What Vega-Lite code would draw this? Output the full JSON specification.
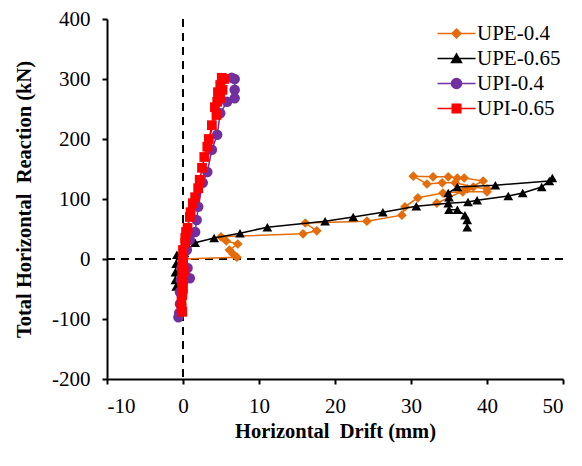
{
  "$schema": "https://vega.github.io/schema/vega-lite/v6.json",
  "width": 456,
  "height": 360,
  "autosize": {"type": "none"},
  "padding": {"left": 107, "top": 19, "right": 19, "bottom": 87},
  "background": "white",
  "config": {
    "font": "Liberation Serif",
    "view": {"stroke": null},
    "axis": {
      "grid": false,
      "domainColor": "black",
      "domainWidth": 2,
      "tickColor": "black",
      "tickWidth": 2,
      "tickSize": 5,
      "labelFont": "Liberation Serif",
      "labelFontSize": 21,
      "labelColor": "black",
      "labelExpr": "'' + datum.value",
      "titleFont": "Liberation Serif",
      "titleFontSize": 20.5,
      "titleFontWeight": "bold",
      "titleColor": "black"
    },
    "legend": {
      "orient": "none",
      "legendX": 339,
      "legendY": 4,
      "title": null,
      "labelFont": "Liberation Serif",
      "labelFontSize": 21,
      "labelColor": "black",
      "labelOffset": 10,
      "rowPadding": 3,
      "symbolSize": 100,
      "symbolStrokeWidth": 1.5
    }
  },
  "data": {
    "values": [
      {"s": "UPE-0.4", "i": 1, "x": 0, "y": 0},
      {"s": "UPE-0.4", "i": 2, "x": 7.1, "y": 3},
      {"s": "UPE-0.4", "i": 3, "x": 6.6, "y": 8},
      {"s": "UPE-0.4", "i": 4, "x": 6.1, "y": 15},
      {"s": "UPE-0.4", "i": 5, "x": 7.2, "y": 25},
      {"s": "UPE-0.4", "i": 6, "x": 5.7, "y": 30},
      {"s": "UPE-0.4", "i": 7, "x": 5.0, "y": 37},
      {"s": "UPE-0.4", "i": 8, "x": 15.8, "y": 42},
      {"s": "UPE-0.4", "i": 9, "x": 17.6, "y": 47},
      {"s": "UPE-0.4", "i": 10, "x": 16.1, "y": 60},
      {"s": "UPE-0.4", "i": 11, "x": 24.2, "y": 63},
      {"s": "UPE-0.4", "i": 12, "x": 28.8, "y": 73},
      {"s": "UPE-0.4", "i": 13, "x": 29.2, "y": 87},
      {"s": "UPE-0.4", "i": 14, "x": 30.9, "y": 102},
      {"s": "UPE-0.4", "i": 15, "x": 34.2, "y": 110},
      {"s": "UPE-0.4", "i": 16, "x": 36.8, "y": 112},
      {"s": "UPE-0.4", "i": 17, "x": 40.0, "y": 112},
      {"s": "UPE-0.4", "i": 18, "x": 40.0, "y": 117},
      {"s": "UPE-0.4", "i": 19, "x": 38.2, "y": 120},
      {"s": "UPE-0.4", "i": 20, "x": 35.8, "y": 127},
      {"s": "UPE-0.4", "i": 21, "x": 34.1, "y": 127},
      {"s": "UPE-0.4", "i": 22, "x": 32.1, "y": 125},
      {"s": "UPE-0.4", "i": 23, "x": 30.3, "y": 138},
      {"s": "UPE-0.4", "i": 24, "x": 32.9, "y": 137},
      {"s": "UPE-0.4", "i": 25, "x": 34.9, "y": 137},
      {"s": "UPE-0.4", "i": 26, "x": 36.1, "y": 135},
      {"s": "UPE-0.4", "i": 27, "x": 37.0, "y": 135},
      {"s": "UPE-0.4", "i": 28, "x": 39.5, "y": 130},
      {"s": "UPE-0.4", "i": 29, "x": 37.4, "y": 117},
      {"s": "UPE-0.4", "i": 30, "x": 33.4, "y": 93},

      {"s": "UPE-0.65", "i": 1, "x": 0, "y": 0},
      {"s": "UPE-0.65", "i": 2, "x": -0.8, "y": 7},
      {"s": "UPE-0.65", "i": 3, "x": -0.9, "y": -8},
      {"s": "UPE-0.65", "i": 4, "x": -1.0, "y": -22},
      {"s": "UPE-0.65", "i": 5, "x": -1.0, "y": -35},
      {"s": "UPE-0.65", "i": 6, "x": -0.9, "y": -46},
      {"s": "UPE-0.65", "i": 7, "x": -0.5, "y": -20},
      {"s": "UPE-0.65", "i": 8, "x": 0.2, "y": 10},
      {"s": "UPE-0.65", "i": 9, "x": 1.6, "y": 27},
      {"s": "UPE-0.65", "i": 10, "x": 4.1, "y": 35},
      {"s": "UPE-0.65", "i": 11, "x": 7.5, "y": 43},
      {"s": "UPE-0.65", "i": 12, "x": 11.1, "y": 53},
      {"s": "UPE-0.65", "i": 13, "x": 18.7, "y": 63},
      {"s": "UPE-0.65", "i": 14, "x": 22.4, "y": 70},
      {"s": "UPE-0.65", "i": 15, "x": 26.3, "y": 78},
      {"s": "UPE-0.65", "i": 16, "x": 30.7, "y": 88},
      {"s": "UPE-0.65", "i": 17, "x": 34.9, "y": 93},
      {"s": "UPE-0.65", "i": 18, "x": 37.5, "y": 95},
      {"s": "UPE-0.65", "i": 19, "x": 38.7, "y": 98},
      {"s": "UPE-0.65", "i": 20, "x": 42.8, "y": 105},
      {"s": "UPE-0.65", "i": 21, "x": 44.7, "y": 110},
      {"s": "UPE-0.65", "i": 22, "x": 47.2, "y": 120},
      {"s": "UPE-0.65", "i": 23, "x": 48.6, "y": 135},
      {"s": "UPE-0.65", "i": 24, "x": 48.2, "y": 130},
      {"s": "UPE-0.65", "i": 25, "x": 41.1, "y": 123},
      {"s": "UPE-0.65", "i": 26, "x": 36.1, "y": 120},
      {"s": "UPE-0.65", "i": 27, "x": 34.9, "y": 110},
      {"s": "UPE-0.65", "i": 28, "x": 35.0, "y": 103},
      {"s": "UPE-0.65", "i": 29, "x": 35.0, "y": 82},
      {"s": "UPE-0.65", "i": 30, "x": 36.1, "y": 82},
      {"s": "UPE-0.65", "i": 31, "x": 37.1, "y": 73},
      {"s": "UPE-0.65", "i": 32, "x": 37.4, "y": 65},
      {"s": "UPE-0.65", "i": 33, "x": 37.4, "y": 53},

      {"s": "UPI-0.4", "i": 1, "x": 0, "y": 0},
      {"s": "UPI-0.4", "i": 2, "x": -0.2, "y": -15},
      {"s": "UPI-0.4", "i": 3, "x": -0.3, "y": -35},
      {"s": "UPI-0.4", "i": 4, "x": -0.4, "y": -55},
      {"s": "UPI-0.4", "i": 5, "x": -0.4, "y": -75},
      {"s": "UPI-0.4", "i": 6, "x": -0.5, "y": -90},
      {"s": "UPI-0.4", "i": 7, "x": -0.6, "y": -97},
      {"s": "UPI-0.4", "i": 8, "x": -0.2, "y": -60},
      {"s": "UPI-0.4", "i": 9, "x": 0.9, "y": -32},
      {"s": "UPI-0.4", "i": 10, "x": 0.6, "y": -15},
      {"s": "UPI-0.4", "i": 11, "x": 0.5, "y": 15},
      {"s": "UPI-0.4", "i": 12, "x": 0.9, "y": 32},
      {"s": "UPI-0.4", "i": 13, "x": 1.6, "y": 45},
      {"s": "UPI-0.4", "i": 14, "x": 1.8, "y": 65},
      {"s": "UPI-0.4", "i": 15, "x": 2.0, "y": 87},
      {"s": "UPI-0.4", "i": 16, "x": 2.6, "y": 127},
      {"s": "UPI-0.4", "i": 17, "x": 3.2, "y": 145},
      {"s": "UPI-0.4", "i": 18, "x": 3.8, "y": 182},
      {"s": "UPI-0.4", "i": 19, "x": 4.5, "y": 207},
      {"s": "UPI-0.4", "i": 20, "x": 4.9, "y": 243},
      {"s": "UPI-0.4", "i": 21, "x": 5.8, "y": 262},
      {"s": "UPI-0.4", "i": 22, "x": 6.8, "y": 268},
      {"s": "UPI-0.4", "i": 23, "x": 6.8, "y": 282},
      {"s": "UPI-0.4", "i": 24, "x": 6.8, "y": 300},
      {"s": "UPI-0.4", "i": 25, "x": 6.4, "y": 302},

      {"s": "UPI-0.65", "i": 1, "x": 0, "y": 0},
      {"s": "UPI-0.65", "i": 2, "x": -0.1, "y": -10},
      {"s": "UPI-0.65", "i": 3, "x": -0.1, "y": -22},
      {"s": "UPI-0.65", "i": 4, "x": -0.1, "y": -35},
      {"s": "UPI-0.65", "i": 5, "x": -0.1, "y": -48},
      {"s": "UPI-0.65", "i": 6, "x": -0.1, "y": -60},
      {"s": "UPI-0.65", "i": 7, "x": -0.2, "y": -72},
      {"s": "UPI-0.65", "i": 8, "x": -0.2, "y": -82},
      {"s": "UPI-0.65", "i": 9, "x": -0.1, "y": -88},
      {"s": "UPI-0.65", "i": 10, "x": 0.0, "y": -50},
      {"s": "UPI-0.65", "i": 11, "x": 0.1, "y": -20},
      {"s": "UPI-0.65", "i": 12, "x": 0.0, "y": 15},
      {"s": "UPI-0.65", "i": 13, "x": 0.3, "y": 27},
      {"s": "UPI-0.65", "i": 14, "x": 0.4, "y": 45},
      {"s": "UPI-0.65", "i": 15, "x": 0.9, "y": 70},
      {"s": "UPI-0.65", "i": 16, "x": 1.3, "y": 93},
      {"s": "UPI-0.65", "i": 17, "x": 2.0, "y": 118},
      {"s": "UPI-0.65", "i": 18, "x": 2.5, "y": 152},
      {"s": "UPI-0.65", "i": 19, "x": 3.2, "y": 187},
      {"s": "UPI-0.65", "i": 20, "x": 3.8, "y": 223},
      {"s": "UPI-0.65", "i": 21, "x": 4.2, "y": 253},
      {"s": "UPI-0.65", "i": 22, "x": 4.5, "y": 262},
      {"s": "UPI-0.65", "i": 23, "x": 4.6, "y": 278},
      {"s": "UPI-0.65", "i": 24, "x": 4.9, "y": 290},
      {"s": "UPI-0.65", "i": 25, "x": 5.1, "y": 302},
      {"s": "UPI-0.65", "i": 26, "x": 5.4, "y": 300},
      {"s": "UPI-0.65", "i": 27, "x": 5.2, "y": 282},
      {"s": "UPI-0.65", "i": 28, "x": 4.9, "y": 268},
      {"s": "UPI-0.65", "i": 29, "x": 4.4, "y": 240},
      {"s": "UPI-0.65", "i": 30, "x": 3.4, "y": 200},
      {"s": "UPI-0.65", "i": 31, "x": 2.8, "y": 170},
      {"s": "UPI-0.65", "i": 32, "x": 2.2, "y": 132},
      {"s": "UPI-0.65", "i": 33, "x": 1.6, "y": 103},
      {"s": "UPI-0.65", "i": 34, "x": 1.0, "y": 78},
      {"s": "UPI-0.65", "i": 35, "x": 0.6, "y": 52},
      {"s": "UPI-0.65", "i": 36, "x": 0.3, "y": 35}
    ]
  },
  "encoding": {
    "x": {
      "field": "x",
      "type": "quantitative",
      "scale": {"domain": [-10, 50], "nice": false},
      "axis": {"values": [-10, 0, 10, 20, 30, 40, 50], "title": "Horizontal\u00a0 Drift (mm)", "labelPadding": 11, "titlePadding": 5}
    },
    "y": {
      "field": "y",
      "type": "quantitative",
      "scale": {"domain": [-200, 400], "nice": false},
      "axis": {"values": [-200, -100, 0, 100, 200, 300, 400], "title": "Total Horizontal\u00a0 Reaction (kN)", "labelPadding": 12, "titlePadding": 17}
    }
  },
  "layer": [
    {
      "mark": {"type": "rule", "strokeDash": [8, 6], "color": "black", "strokeWidth": 1.2},
      "encoding": {"x": {"datum": 0}, "y": null}
    },
    {
      "mark": {"type": "rule", "strokeDash": [8, 6], "color": "black", "strokeWidth": 1.2},
      "encoding": {"y": {"datum": 0}, "x": null}
    },
    {
      "transform": [{"filter": "datum.s === 'UPE-0.4'"}],
      "mark": {"type": "line", "color": "#E46C0A", "strokeWidth": 1.5,
        "point": {"shape": "diamond", "size": 95, "filled": true, "color": "#E46C0A", "opacity": 1}},
      "encoding": {"order": {"field": "i", "type": "quantitative"}}
    },
    {
      "transform": [{"filter": "datum.s === 'UPE-0.65'"}],
      "mark": {"type": "line", "color": "black", "strokeWidth": 1.5,
        "point": {"shape": "triangle-up", "size": 95, "filled": true, "color": "black", "opacity": 1}},
      "encoding": {"order": {"field": "i", "type": "quantitative"}}
    },
    {
      "transform": [{"filter": "datum.s === 'UPI-0.4'"}],
      "mark": {"type": "line", "color": "#7030A0", "strokeWidth": 1.5,
        "point": {"shape": "circle", "size": 110, "filled": true, "color": "#7030A0", "opacity": 1}},
      "encoding": {"order": {"field": "i", "type": "quantitative"}}
    },
    {
      "transform": [{"filter": "datum.s === 'UPI-0.65'"}],
      "mark": {"type": "line", "color": "#FF0000", "strokeWidth": 1.5,
        "point": {"shape": "square", "size": 95, "filled": true, "color": "#FF0000", "opacity": 1}},
      "encoding": {"order": {"field": "i", "type": "quantitative"}}
    },
    {
      "transform": [{"filter": "false"}],
      "mark": {"type": "point", "filled": true, "opacity": 1},
      "encoding": {
        "color": {"field": "s", "type": "nominal",
          "scale": {"domain": ["UPE-0.4", "UPE-0.65", "UPI-0.4", "UPI-0.65"], "range": ["#E46C0A", "black", "#7030A0", "#FF0000"]}},
        "stroke": {"field": "s", "type": "nominal",
          "scale": {"domain": ["UPE-0.4", "UPE-0.65", "UPI-0.4", "UPI-0.65"], "range": ["#E46C0A", "black", "#7030A0", "#FF0000"]}},
        "shape": {"field": "s", "type": "nominal",
          "scale": {"domain": ["UPE-0.4", "UPE-0.65", "UPI-0.4", "UPI-0.65"],
            "range": [
              "M-3.8,0H3.8M0,-0.9L0.9,0L0,0.9L-0.9,0Z",
              "M-3.8,0H3.8M0,-0.9L1,0.8L-1,0.8Z",
              "M-3.8,0H3.8M1,0A1,1,0,1,1,-1,0A1,1,0,1,1,1,0Z",
              "M-3.8,0H3.8M-0.85,-0.85H0.85V0.85H-0.85Z"
            ]}}
      }
    }
  ]
}
